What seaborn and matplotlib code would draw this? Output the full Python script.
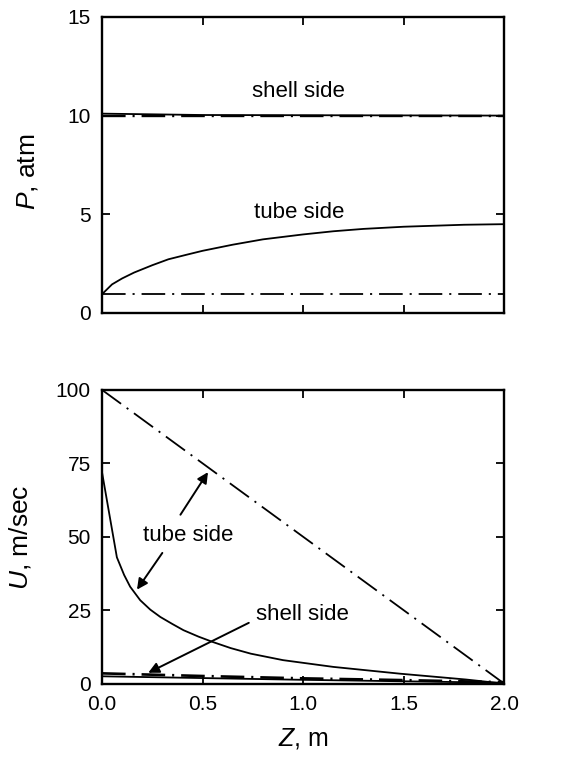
import numpy as np
import pandas as pd
import matplotlib
matplotlib.use("Agg")
import matplotlib.pyplot as plt
import seaborn as sns

# ---- data ----
z_P = [0.0, 0.05, 0.1, 0.16, 0.25, 0.33, 0.42, 0.5, 0.65, 0.8, 1.0, 1.15, 1.3, 1.5, 1.65, 1.8, 2.0]
P_tube = [0.95, 1.45, 1.75, 2.05, 2.42, 2.72, 2.95, 3.15, 3.46, 3.73, 3.98, 4.14, 4.26, 4.37, 4.42, 4.47, 4.5]
z_P_ends = [0.0, 2.0]
P_tube_dd = [0.95, 0.95]
z_P_shell = [0.0, 0.5, 2.0]
P_shell = [10.1, 10.03, 10.0]
P_shell_dd = [9.97, 9.97]

z_U = [0.0, 0.074, 0.11, 0.14, 0.19, 0.24, 0.29, 0.35, 0.405, 0.48, 0.55, 0.64, 0.74, 0.9, 1.15, 1.48, 1.81, 2.0]
U_tube = [72.0, 43.0, 37.0, 33.0, 28.4, 25.2, 22.7, 20.3, 18.2, 16.0, 14.2, 12.1, 10.2, 8.0, 5.7, 3.4, 1.4, 0.0]
z_U_ends = [0.0, 2.0]
U_tube_dd = [100.0, 0.0]
z_U_shell = [0.0, 0.5, 1.0, 1.5, 2.0]
U_shell = [2.5, 1.9, 1.3, 0.8, 0.3]
U_shell_dd = [3.5, 2.6, 1.8, 1.2, 0.5]

x_ticks = [0.0, 0.5, 1.0, 1.5, 2.0]
x_ticklabels = ["0.0", "0.5", "1.0", "1.5", "2.0"]
P_ticks = [0, 5, 10, 15]
U_ticks = [0, 25, 50, 75, 100]

# ---- style ----
sns.set_style("ticks")
plt.rcParams["font.family"] = ["Liberation Sans", "DejaVu Sans"]
plt.rcParams["mathtext.fontset"] = "custom"
plt.rcParams["mathtext.it"] = "Liberation Sans:italic"
plt.rcParams["mathtext.rm"] = "Liberation Sans"
plt.rcParams["lines.scale_dashes"] = False
plt.rcParams["text.color"] = "black"
plt.rcParams["axes.labelcolor"] = "black"

DD = (0, (17, 5, 1.5, 5))
LW = 1.3
FS_TICK = 15
FS_TXT = 16
FS_YLAB = 19
FS_XLAB = 18

fig = plt.figure(figsize=(5.73, 7.69), dpi=100)
ax1 = fig.add_axes([0.178, 0.593, 0.702, 0.385])
ax2 = fig.add_axes([0.178, 0.111, 0.702, 0.382])

# top panel: pressure
sns.lineplot(x=z_P, y=P_tube, ax=ax1, color="black", lw=LW)
sns.lineplot(x=z_P_ends, y=P_tube_dd, ax=ax1, color="black", lw=LW, linestyle=DD)
sns.lineplot(x=z_P_shell, y=P_shell, ax=ax1, color="black", lw=LW)
sns.lineplot(x=z_P_ends, y=P_shell_dd, ax=ax1, color="black", lw=LW + 0.4, linestyle=DD)

ax1.text(0.975, 11.2, "shell side", ha="center", va="center", fontsize=FS_TXT)
ax1.text(0.98, 5.1, "tube side", ha="center", va="center", fontsize=FS_TXT)

ax1.set_xlim(0, 2.0)
ax1.set_ylim(0, 15)
ax1.set_xticks(x_ticks)
ax1.set_xticklabels([])
ax1.set_yticks(P_ticks)
ax1.set_xlabel("")
ax1.set_ylabel(r"$P$, atm", fontsize=FS_YLAB)
ax1.yaxis.set_label_coords(-0.154, 0.476)

# bottom panel: velocity
sns.lineplot(x=z_U, y=U_tube, ax=ax2, color="black", lw=LW)
sns.lineplot(x=z_U_ends, y=U_tube_dd, ax=ax2, color="black", lw=LW, linestyle=DD)
sns.lineplot(x=z_U_shell, y=U_shell, ax=ax2, color="black", lw=LW)
sns.lineplot(x=z_U_shell, y=U_shell_dd, ax=ax2, color="black", lw=LW + 0.6, linestyle=DD)

arrow = dict(arrowstyle="-|>", color="black", lw=1.4, mutation_scale=16, shrinkA=0, shrinkB=0)
ax2.text(0.43, 50.5, "tube side", ha="center", va="center", fontsize=FS_TXT)
ax2.annotate("", xy=(0.527, 72.0), xytext=(0.39, 57.5), arrowprops=arrow)
ax2.annotate("", xy=(0.174, 32.0), xytext=(0.30, 44.5), arrowprops=arrow)
ax2.text(0.995, 23.5, "shell side", ha="center", va="center", fontsize=FS_TXT)
ax2.annotate("", xy=(0.23, 3.7), xytext=(0.73, 20.7), arrowprops=arrow)

ax2.set_xlim(0, 2.0)
ax2.set_ylim(0, 100)
ax2.set_xticks(x_ticks)
ax2.set_xticklabels(x_ticklabels)
ax2.set_yticks(U_ticks)
ax2.set_xlabel(r"$Z$, m", fontsize=FS_XLAB)
ax2.xaxis.set_label_coords(0.5, -0.145)
ax2.set_ylabel(r"$U$, m/sec", fontsize=FS_YLAB)
ax2.yaxis.set_label_coords(-0.172, 0.497)

for ax in (ax1, ax2):
    for sp in ax.spines.values():
        sp.set_visible(True)
        sp.set_linewidth(1.7)
        sp.set_color("black")
    ax.tick_params(direction="in", top=True, right=True, length=6, width=1.3,
                   labelsize=FS_TICK, pad=8, colors="black")
    ax.set_facecolor("white")

fig.savefig("out.png", dpi=100, facecolor="white")
